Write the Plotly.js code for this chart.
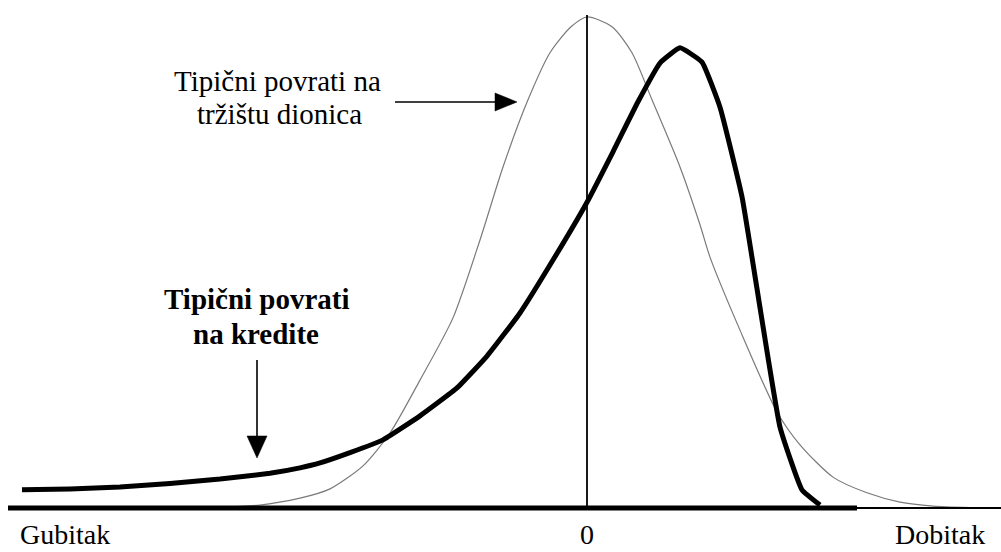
<!DOCTYPE html>
<html>
<head>
<meta charset="utf-8">
<script src="https://cdn.plot.ly/plotly-3.0.1.min.js"></script>
<style>html,body{margin:0;padding:0;background:#fff;}#chart{width:1001px;height:552px;}</style>
</head>
<body>
<div id="chart"></div>
<script>
// Typical stock market returns (thin grey curve)
const stockX = [-4.87, -4.07, -3.67, -3.27, -2.87, -2.57, -2.24, -1.97, -1.67, -1.34, -1.07, -0.84, -0.59, -0.37, -0.16, 0, 0.25, 0.45, 0.65, 0.93, 1.13, 1.23, 1.53, 1.90, 2.13, 2.46, 2.80, 3.13, 3.46, 3.83, 4.14];
const stockY = [0, 0, 0.1, 0.6, 2.0, 3.9, 8.6, 15.3, 26.1, 38.8, 54.7, 69.6, 83.3, 92.9, 98.2, 100.2, 98.2, 92.9, 83.3, 69.6, 57.8, 51.2, 36.3, 19.6, 12.9, 6.3, 3.1, 1.2, 0.4, 0.1, 0];

// Typical loan returns (thick black curve)
const loanX = [-5.65, -5.17, -4.67, -4.17, -3.67, -3.17, -2.87, -2.67, -2.37, -2.04, -1.67, -1.30, -1.00, -0.67, -0.34, 0, 0.26, 0.51, 0.73, 0.93, 1.15, 1.33, 1.55, 1.93, 2.15, 2.33];
const loanY = [3.7, 3.9, 4.3, 5.0, 5.9, 7.1, 8.2, 9.2, 11.3, 13.9, 18.8, 24.5, 31.0, 39.8, 50.6, 62.4, 72.7, 82.9, 90.8, 93.9, 91.0, 81.8, 63.5, 16.5, 3.7, 0.6];

// Axis labels
const axisLabels = ['Gubitak', '0', 'Dobitak'];
const axisLabelX = [-5.225, 0, 3.53];

const stockLabel = ['Tipični povrati na', 'tržištu dionica'];
const loanLabel = ['Tipični povrati', 'na kredite'];

const serif = 'Liberation Serif, Times New Roman, serif';

const traces = [
  {x: stockX, y: stockY, mode: 'lines', line: {color: '#7a7a7a', width: 1.2, shape: 'spline', smoothing: 0.7}, hoverinfo: 'skip'},
  {x: loanX, y: loanY, mode: 'lines', line: {color: '#000', width: 5, shape: 'spline', smoothing: 0.35}, hoverinfo: 'skip'}
];

const annotations = [];
axisLabels.forEach((t, i) => annotations.push({x: axisLabelX[i], y: -8.85, text: t, showarrow: false, xanchor: 'center', yanchor: 'bottom', borderpad: 0, font: {family: serif, size: 28, color: '#000'}}));
annotations.push({x: -3.095, y: 87.1, text: stockLabel[0], showarrow: false, font: {family: serif, size: 29, color: '#000'}});
annotations.push({x: -3.08, y: 80.4, text: stockLabel[1], showarrow: false, font: {family: serif, size: 29, color: '#000'}});
annotations.push({x: -3.30, y: 42.65, text: '<b>' + loanLabel[0] + '</b>', showarrow: false, font: {family: serif, size: 29, color: '#000'}});
annotations.push({x: -3.31, y: 35.5, text: '<b>' + loanLabel[1] + '</b>', showarrow: false, font: {family: serif, size: 29, color: '#000'}});

const shapes = [
  // baseline (thick) and thin continuation
  {type: 'line', x0: -5.79, x1: 2.70, y0: 0, y1: 0, line: {color: '#000', width: 5}},
  {type: 'line', x0: 2.70, x1: 4.14, y0: 0, y1: 0, line: {color: '#000', width: 2}},
  // vertical zero line
  {type: 'line', x0: 0, x1: 0, y0: 0, y1: 100.6, line: {color: '#000', width: 1.8}},
  // arrow to stock curve
  {type: 'line', x0: -1.92, x1: -0.90, y0: 82.86, y1: 82.86, line: {color: '#000', width: 1.6}},
  {type: 'path', path: 'M -0.70 82.86 L -0.92 84.7 L -0.92 81.02 Z', fillcolor: '#000', line: {color: '#000', width: 0.5}},
  // arrow to loan curve
  {type: 'line', x0: -3.30, x1: -3.30, y0: 30.2, y1: 14.5, line: {color: '#000', width: 1.6}},
  {type: 'path', path: 'M -3.30 10.2 L -3.40 14.7 L -3.20 14.7 Z', fillcolor: '#000', line: {color: '#000', width: 0.5}}
];

const layout = {
  width: 1001, height: 552,
  margin: {l: 0, r: 0, t: 0, b: 0},
  paper_bgcolor: '#fff', plot_bgcolor: '#fff',
  showlegend: false,
  xaxis: {range: [-5.87, 4.14], visible: false, fixedrange: true},
  yaxis: {range: [-8.98, 103.67], visible: false, fixedrange: true},
  annotations: annotations,
  shapes: shapes
};

Plotly.newPlot('chart', traces, layout, {staticPlot: true});
</script>
</body>
</html>
